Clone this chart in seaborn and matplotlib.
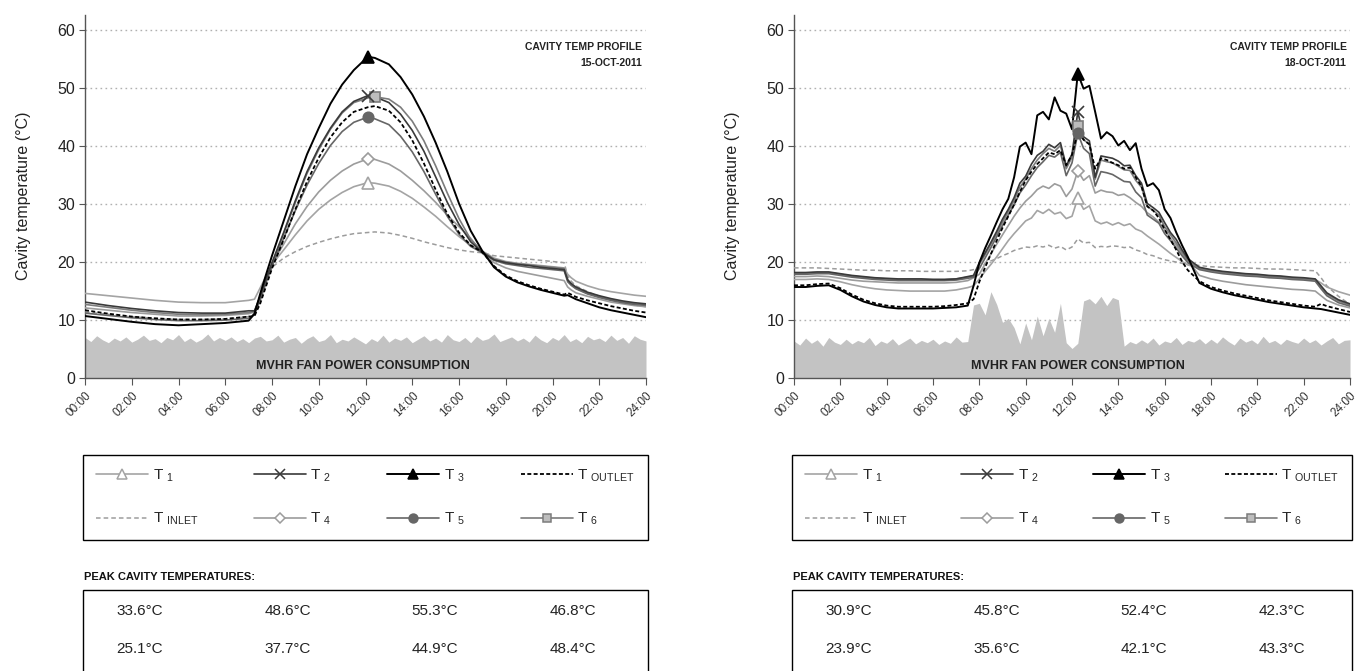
import numpy as np
import matplotlib
matplotlib.use("Agg")
import matplotlib.pyplot as plt
from matplotlib.lines import Line2D
from matplotlib.patches import Rectangle
import seaborn as sns

# ---------------------------------------------------------------- data
# 15 October 2011 (smooth clear-sky day)
L_HOURS = [0, 1, 2, 3, 4, 5, 6, 7, 7.25, 7.5, 7.75, 8, 8.5, 9, 9.5, 10, 10.5, 11, 11.5,
           12.1, 12.4, 13, 13.5, 14, 14.5, 15, 15.5, 16, 16.5, 17, 17.5, 18, 18.5, 19,
           19.5, 20, 20.5, 20.65, 20.8, 21, 21.5, 22, 22.5, 23, 23.5, 24]

L_T1 = [14.5, 14.1, 13.7, 13.3, 13.0, 12.9, 12.9, 13.3,
        13.5, 15.5, 17.5, 19.5, 22.0, 24.6, 27.0, 29.0, 30.6, 31.9, 32.9, 33.6, 33.5,
        33.0, 32.1, 30.9, 29.4, 27.8, 26.0, 24.3, 22.8,
        21.8, 20.6, 20.0, 19.7, 19.5, 19.3, 19.1, 18.9, 17.8, 17.2, 16.6, 15.8, 15.2,
        14.8, 14.5, 14.2, 14.0]
L_T2 = [13.0, 12.4, 11.9, 11.5, 11.2, 11.1, 11.1, 11.5,
        11.5, 14.0, 17.0, 19.8, 25.0, 30.5, 35.5, 39.6, 43.0, 45.8, 47.6, 48.6, 48.4,
        47.4, 45.4, 42.6, 39.0, 34.6, 30.2, 26.4, 23.4,
        21.6, 20.3, 19.8, 19.5, 19.3, 19.0, 18.8, 18.6, 16.8, 16.2, 15.6, 14.7, 14.1,
        13.6, 13.2, 12.9, 12.7]
L_T3 = [10.6, 10.1, 9.6, 9.2, 9.0, 9.2, 9.4, 9.8,
        11.0, 14.5, 17.8, 21.0, 27.0, 33.0, 38.5, 43.0, 47.2, 50.5, 53.0, 55.3, 55.1,
        54.0, 51.8, 48.8, 45.0, 40.5, 35.5, 30.0, 25.3,
        21.8, 19.0, 17.4, 16.4, 15.7, 15.1, 14.6, 14.1, 14.2, 13.9, 13.5, 12.8, 12.1,
        11.6, 11.2, 10.8, 10.4]
L_TOUT = [11.6, 11.0, 10.5, 10.2, 10.0, 10.0, 10.1, 10.5,
          10.6, 12.8, 15.8, 18.8, 23.8, 29.0, 33.8, 37.9, 41.4, 44.0, 45.8, 46.6, 46.8,
          46.0, 44.0, 40.9, 36.9, 32.4, 28.2, 25.0, 22.8,
          21.6, 19.2, 17.6, 16.6, 15.9, 15.3, 14.8, 14.3, 14.6, 14.3, 13.9, 13.3, 12.8,
          12.3, 11.9, 11.5, 11.2]
L_TIN = [11.3, 10.9, 10.5, 10.2, 10.0, 10.0, 10.1, 10.5,
         11.0, 13.5, 16.5, 19.0, 20.6, 21.7, 22.6, 23.3, 23.9, 24.4, 24.8, 25.0, 25.1,
         24.9, 24.5, 24.0, 23.4, 22.9, 22.4, 22.0, 21.7,
         21.5, 21.0, 20.8, 20.6, 20.4, 20.2, 20.0, 19.8, 17.5, 16.6, 15.8, 14.8, 14.0,
         13.4, 12.9, 12.5, 12.2]
L_T4 = [12.0, 11.6, 11.2, 10.9, 10.6, 10.6, 10.7, 11.0,
        11.3, 14.0, 17.0, 19.6, 23.0, 26.5, 29.5, 32.0, 34.0, 35.6, 36.8, 37.7, 37.6,
        36.8, 35.6, 34.0, 32.2, 30.2, 28.0, 26.0, 24.0,
        21.4, 19.8, 18.9, 18.3, 17.9, 17.5, 17.1, 16.7, 15.6, 15.1, 14.6, 14.0, 13.5,
        13.0, 12.7, 12.4, 12.2]
L_T5 = [11.1, 10.7, 10.3, 10.0, 9.8, 9.8, 9.9, 10.2,
        10.8, 13.4, 16.4, 19.2, 24.0, 28.8, 33.2, 36.9, 40.0, 42.4, 44.0, 44.9, 44.6,
        43.6, 41.6, 38.9, 35.5, 31.6, 27.8, 24.7, 22.6,
        21.5, 20.2, 19.6, 19.3, 19.0, 18.8, 18.6, 18.4, 16.5, 15.9, 15.3, 14.4, 13.8,
        13.3, 12.9, 12.6, 12.5]
L_T6 = [12.6, 12.1, 11.6, 11.2, 10.9, 10.8, 10.9, 11.2,
        11.4, 13.8, 16.8, 19.6, 24.8, 30.2, 35.2, 39.3, 42.8, 45.6, 47.4, 48.2, 48.4,
        48.0, 46.6, 44.2, 40.8, 36.5, 31.8, 27.4, 23.8,
        21.7, 20.4, 19.9, 19.6, 19.4, 19.2, 19.0, 18.8, 16.9, 16.1, 15.4, 14.5, 13.9,
        13.4, 13.0, 12.7, 12.4]

# fan power, one value per quarter hour (00:00 ... 24:00)
L_FAN = [6.9, 6.2, 7.2, 6.5, 6.0, 6.8, 6.3, 7.0, 6.1, 6.6, 7.3, 6.4,
         6.7, 6.0, 6.9, 6.5, 7.4, 6.2, 6.8, 6.1, 6.6, 7.5, 6.3, 6.9,
         6.4, 7.0, 6.2, 6.7, 6.0, 6.8, 7.1, 6.3, 6.5, 7.3, 6.1, 6.6,
         6.9, 5.9, 6.7, 7.2, 6.2, 6.5, 7.4, 6.0, 6.6, 6.3, 7.0, 6.4,
         5.8, 6.7, 6.2, 7.3, 6.1, 6.8, 6.4, 7.0, 6.0, 6.6, 7.2, 6.3,
         6.8, 6.1, 7.4, 6.5, 6.2, 6.9, 6.0, 7.1, 6.4, 6.7, 7.5, 6.2,
         6.6, 7.0, 6.3, 6.8, 6.1, 7.3, 6.5, 6.0, 6.9, 6.4, 7.4, 6.2,
         6.7, 6.0, 7.1, 6.5, 6.8, 6.2, 7.3, 6.4, 6.9, 5.9, 7.2, 6.6,
         6.3]

# 18 October 2011 (broken cloud around midday)
R_HOURS = np.r_[np.arange(0, 7.51, 0.5), 7.75, np.arange(8, 17.01, 0.25),
                np.arange(17.5, 22.51, 0.5), 22.75, 23, 23.5, 24]

R_T1 = [16.9, 16.9, 17.0, 16.9, 16.5, 16.0, 15.6, 15.3, 15.1, 15.0, 14.9, 14.9, 14.9, 14.9, 15.1, 15.5,
        15.8, 17.0, 18.3, 19.5, 20.8, 22.2, 23.6, 24.8, 25.9, 27.0, 27.5, 28.8, 28.3, 29.0, 28.2, 28.5,
        27.4, 27.8, 30.9, 29.0, 29.6, 27.0, 26.5, 26.8, 26.3, 26.7, 26.2, 26.5, 25.6, 25.2, 24.4, 23.7,
        23.0, 22.2, 21.4, 20.7, 20.0, 19.4,
        18.9, 18.5, 18.2, 18.0, 17.8, 17.7, 17.5, 17.4, 17.2, 17.1, 16.9, 16.3, 15.6, 14.8, 14.2]
R_T2 = [18.1, 18.1, 18.2, 18.2, 17.9, 17.6, 17.4, 17.2, 17.1, 17.0, 17.0, 17.0, 16.9, 16.9, 17.0, 17.4,
        17.6, 19.8, 21.5, 23.3, 25.2, 27.3, 29.0, 31.0, 33.5, 34.7, 36.8, 38.3, 39.0, 40.2, 39.6, 40.5,
        36.5, 38.5, 45.8, 41.5, 40.8, 34.5, 38.2, 38.0, 37.8, 37.3, 36.5, 36.6, 34.8, 33.5, 30.0, 29.3,
        28.5, 26.7, 25.0, 23.8, 22.0, 20.5,
        19.0, 18.6, 18.3, 18.1, 17.9, 17.8, 17.6, 17.5, 17.3, 17.2, 17.0, 15.8, 14.6, 13.4, 12.7]
R_T3 = [15.6, 15.6, 15.8, 15.9, 15.1, 14.0, 13.1, 12.5, 12.1, 11.9, 11.9, 11.9, 11.9, 12.0, 12.1, 12.4,
        15.8, 19.8, 22.3, 24.5, 26.8, 29.0, 30.8, 34.5, 39.8, 40.5, 38.5, 45.2, 45.8, 44.5, 48.3, 46.0,
        45.5, 42.8, 52.4, 49.8, 50.3, 45.8, 41.2, 42.3, 41.6, 40.0, 40.8, 39.2, 40.4, 36.0, 33.0, 33.5,
        32.3, 29.0, 27.5, 25.0, 22.8, 20.8,
        16.3, 15.3, 14.7, 14.2, 13.8, 13.4, 13.0, 12.7, 12.4, 12.1, 11.9, 11.8, 11.6, 11.2, 10.8]
R_TOUT = [15.9, 15.9, 16.1, 16.2, 15.4, 14.3, 13.4, 12.8, 12.4, 12.2, 12.2, 12.2, 12.2, 12.3, 12.5, 12.8,
          13.5, 16.5, 19.0, 21.3, 23.6, 25.8, 27.8, 29.8, 32.0, 34.0, 35.5, 36.8, 37.8, 38.8, 38.5, 39.2,
          36.6, 38.4, 42.3, 41.0, 40.2, 36.0, 37.8, 37.5, 37.0, 36.6, 36.0, 36.2, 34.5, 33.0, 29.5, 28.8,
          27.5, 25.5, 23.8, 22.0, 20.0, 18.5,
          16.6, 15.6, 15.0, 14.5, 14.1, 13.7, 13.3, 13.0, 12.7, 12.4, 12.2, 12.7, 12.3, 11.8, 11.3]
R_TIN = [18.9, 18.9, 18.9, 18.8, 18.7, 18.6, 18.5, 18.5, 18.4, 18.4, 18.4, 18.3, 18.3, 18.3, 18.3, 18.4,
         18.6, 19.0, 19.6, 20.1, 20.5, 21.0, 21.4, 21.9, 22.2, 22.5, 22.4, 22.7, 22.5, 22.8, 22.3, 22.6,
         22.0, 22.5, 23.9, 23.2, 23.3, 22.4, 22.6, 22.5, 22.7, 22.6, 22.4, 22.5, 22.0, 21.7, 21.2, 21.0,
         20.6, 20.3, 20.1, 19.9, 19.7, 19.6,
         19.3, 19.1, 19.0, 18.9, 18.9, 18.8, 18.7, 18.7, 18.6, 18.5, 18.4, 17.2, 15.8, 14.0, 12.6]
R_T4 = [17.4, 17.4, 17.5, 17.4, 17.1, 16.8, 16.6, 16.5, 16.4, 16.3, 16.3, 16.3, 16.3, 16.3, 16.4, 16.7,
        17.2, 17.8, 19.6, 21.3, 23.0, 24.6, 26.2, 27.8, 29.2, 30.4, 31.3, 32.4, 33.0, 32.6, 33.4, 33.0,
        31.2, 32.5, 35.6, 34.0, 34.8, 31.8, 32.3, 32.0, 31.9, 31.4, 31.6, 31.0, 30.2, 29.5, 28.4, 27.7,
        26.8, 25.5, 24.0, 22.8, 21.3, 20.1,
        17.6, 17.0, 16.6, 16.3, 16.0, 15.8, 15.6, 15.4, 15.2, 15.1, 14.9, 14.1, 13.3, 12.5, 12.0]
R_T5 = [17.8, 17.8, 17.9, 17.9, 17.6, 17.3, 17.1, 16.9, 16.8, 16.7, 16.7, 16.7, 16.7, 16.7, 16.8, 17.1,
        17.3, 18.8, 20.6, 22.4, 24.3, 26.2, 28.0, 29.8, 31.8, 33.2, 34.8, 36.2, 37.2, 38.3, 38.0, 38.8,
        34.8, 37.0, 42.1, 39.5, 38.6, 33.0, 35.5, 35.3, 35.0, 34.4, 33.8, 33.7, 32.0, 31.0, 28.0, 27.3,
        26.6, 24.8, 23.6, 22.3, 21.0, 19.8,
        18.6, 18.2, 17.9, 17.7, 17.5, 17.4, 17.2, 17.1, 16.9, 16.8, 16.6, 15.3, 14.1, 12.9, 12.3]
R_T6 = [18.0, 18.0, 18.1, 18.1, 17.8, 17.5, 17.3, 17.1, 17.0, 16.9, 16.9, 16.9, 16.9, 16.9, 17.0, 17.3,
        17.5, 19.5, 21.2, 23.0, 24.8, 26.8, 28.6, 30.5, 32.8, 34.2, 36.0, 37.5, 38.6, 39.5, 39.0, 40.0,
        36.0, 38.0, 43.3, 41.0, 40.2, 34.2, 37.5, 37.2, 37.0, 36.4, 35.8, 35.7, 34.0, 32.8, 29.5, 28.8,
        28.0, 26.0, 24.6, 23.2, 21.6, 20.2,
        18.8, 18.4, 18.1, 17.9, 17.7, 17.6, 17.4, 17.3, 17.1, 17.0, 16.8, 15.6, 14.4, 13.2, 12.5]

R_FAN = [6.3, 5.6, 6.8, 5.9, 6.5, 5.4, 6.9, 6.1, 5.7, 6.6, 5.8, 6.4,
         6.0, 6.9, 5.5, 6.3, 5.9, 6.7, 5.6, 6.2, 6.8, 5.8, 6.4, 6.0,
         6.6, 5.7, 6.3, 5.9, 7.0, 6.1, 6.2, 12.5, 12.8, 10.8, 14.8, 12.6,
         9.5, 10.2, 8.6, 5.8, 9.4, 6.5, 10.6, 7.2, 10.2, 7.8, 12.8, 6.0,
         5.0, 5.9, 13.2, 13.6, 12.7, 14.0, 12.4, 13.8, 13.4, 5.4, 6.2, 5.8,
         6.5, 5.9, 6.8, 5.6, 6.3, 6.0, 6.9, 5.7, 6.4, 6.1, 6.7, 5.8,
         6.6, 5.9, 7.0, 6.2, 5.6, 6.8, 6.1, 6.5, 5.8, 7.1, 6.0, 6.4,
         5.7, 6.6, 6.2, 5.9, 6.8, 6.0, 6.5, 5.6, 6.3, 6.9, 5.8, 6.4,
         6.5]

# legend / table reading order (row by row)
SENSORS = ["T1", "T2", "T3", "TOUT", "TIN", "T4", "T5", "T6"]
LEGEND_LABELS = {"T1": r"T $_{1}$", "T2": r"T $_{2}$", "T3": r"T $_{3}$",
                 "TOUT": r"T $_{OUTLET}$", "TIN": r"T $_{INLET}$", "T4": r"T $_{4}$",
                 "T5": r"T $_{5}$", "T6": r"T $_{6}$"}
TICK_LABELS = ["00:00", "02:00", "04:00", "06:00", "08:00", "10:00", "12:00",
               "14:00", "16:00", "18:00", "20:00", "22:00", "24:00"]

DAYS = [
    dict(hours=np.array(L_HOURS, dtype=float),
         series=dict(T1=L_T1, T2=L_T2, T3=L_T3, TOUT=L_TOUT, TIN=L_TIN, T4=L_T4, T5=L_T5, T6=L_T6),
         fan=L_FAN, date="15-OCT-2011", fan_x=11.9),
    dict(hours=np.array(R_HOURS, dtype=float),
         series=dict(T1=R_T1, T2=R_T2, T3=R_T3, TOUT=R_TOUT, TIN=R_TIN, T4=R_T4, T5=R_T5, T6=R_T6),
         fan=R_FAN, date="18-OCT-2011", fan_x=12.25),
]

# ---------------------------------------------------------------- styles
STYLE = {
    "T1":   dict(color="#a4a4a4", lw=1.2, ls="-", marker="^", ms=8, mfc="white", mec="#a4a4a4"),
    "T2":   dict(color="#3a3a3a", lw=1.2, ls="-", marker="x", ms=9, mfc="#3a3a3a", mec="#3a3a3a"),
    "T3":   dict(color="#000000", lw=1.4, ls="-", marker="^", ms=9, mfc="#000000", mec="#000000"),
    "TOUT": dict(color="#000000", lw=1.3, ls=(0, (2.2, 1.3)), marker=None),
    "TIN":  dict(color="#9c9c9c", lw=1.1, ls=(0, (3, 2)), marker=None),
    "T4":   dict(color="#9c9c9c", lw=1.2, ls="-", marker="D", ms=6.5, mfc="white", mec="#9c9c9c"),
    "T5":   dict(color="#666666", lw=1.2, ls="-", marker="o", ms=7.5, mfc="#666666", mec="#666666"),
    "T6":   dict(color="#7c7c7c", lw=1.2, ls="-", marker="s", ms=7.5, mfc="#bdbdbd", mec="#7c7c7c"),
}
DRAW_ORDER = ["TIN", "T1", "T4", "T6", "T5", "T2", "TOUT", "T3"]

sns.set_theme(style="white")
plt.rcParams["font.family"] = ["Liberation Sans", "DejaVu Sans"]
plt.rcParams["mathtext.default"] = "regular"

W, H = 1367, 671
fig = plt.figure(figsize=(W / 100, H / 100), dpi=100)


def fx(px):
    return px / W


def fy(py):
    return 1 - py / H


# panel frames in pixels: (x at 00:00, x at 24:00); y from 0 °C to 62.5 °C
PANELS = [(85, 646), (794, 1350)]
Y0, Y_TOP = 377.5, 15.0

for (x0, x1), day in zip(PANELS, DAYS):
    ax = fig.add_axes([fx(x0), fy(Y0), fx(x1) - fx(x0), fy(Y_TOP) - fy(Y0)])
    ax.set_axisbelow(True)
    hours = day["hours"]

    fan_hours = np.arange(len(day["fan"])) * 0.25
    ax.fill_between(fan_hours, 0, day["fan"], color="#c3c3c3", lw=0, zorder=1)

    for key in DRAW_ORDER:
        st = STYLE[key]
        vals = np.asarray(day["series"][key], dtype=float)
        sns.lineplot(x=hours, y=vals, ax=ax, color=st["color"], linewidth=st["lw"],
                     linestyle=st["ls"], estimator=None, sort=False, zorder=3)
        if st["marker"]:
            i = int(np.argmax(vals))
            ax.plot(hours[i], vals[i], linestyle="none", marker=st["marker"],
                    markersize=st["ms"], markerfacecolor=st["mfc"],
                    markeredgecolor=st["mec"], markeredgewidth=1.2, zorder=5)

    ax.set_xlim(0, 24)
    ax.set_ylim(0, 62.5)
    ax.set_xticks(np.arange(0, 25, 2))
    ax.set_xticklabels(TICK_LABELS, rotation=45, ha="right", rotation_mode="anchor",
                       fontsize=8.5, color="#333333")
    ax.set_yticks(np.arange(0, 61, 10))
    ax.tick_params(axis="y", labelsize=11.5, labelcolor="#222222", left=True,
                   length=4, width=0.8, color="#555555", pad=3)
    ax.tick_params(axis="x", bottom=True, length=5, width=0.8, color="#555555", pad=4)
    ax.yaxis.grid(True, linestyle=(0, (1.2, 2.4)), color="#b0b0b0", linewidth=1.0)
    ax.xaxis.grid(False)
    for side in ("top", "right"):
        ax.spines[side].set_visible(False)
    for side in ("left", "bottom"):
        ax.spines[side].set_color("#555555")
        ax.spines[side].set_linewidth(1.0)
    ax.set_ylabel("Cavity temperature (°C)", fontsize=11.5, color="#222222", labelpad=19)
    ax.set_xlabel("")

    ax.text(23.85, 56.9, "CAVITY TEMP PROFILE", ha="right", va="center",
            fontsize=7.5, fontweight="bold", color="#222222")
    ax.text(23.85, 54.2, day["date"], ha="right", va="center",
            fontsize=7.5, fontweight="bold", color="#222222")
    ax.text(day["fan_x"], 1.9, "MVHR FAN POWER CONSUMPTION", ha="center", va="center",
            fontsize=9, fontweight="bold", color="#222222", zorder=6)

    # legend box: matplotlib fills column by column, so feed the two rows interleaved
    legend_keys = [k for pair in zip(SENSORS[:4], SENSORS[4:]) for k in pair]
    handles = []
    for key in legend_keys:
        st = STYLE[key]
        handles.append(Line2D([], [], color=st["color"], linewidth=st["lw"], linestyle=st["ls"],
                              marker=st["marker"] if st["marker"] else "None",
                              markersize=st.get("ms", 0) * 0.85,
                              markerfacecolor=st.get("mfc", "none"),
                              markeredgecolor=st.get("mec", "none"), markeredgewidth=1.1))
    bx0, bx1 = x0 - 2, x1 + 2
    leg = fig.legend(handles, [LEGEND_LABELS[k] for k in legend_keys], ncol=4, loc="center",
                     mode="expand",
                     bbox_to_anchor=(fx(bx0), fy(540), fx(bx1) - fx(bx0), fy(455) - fy(540)),
                     frameon=True, fancybox=False, edgecolor="black", framealpha=1,
                     fontsize=11, handlelength=3.4, handletextpad=0.3, labelspacing=1.75,
                     borderpad=0.85, numpoints=1, borderaxespad=0)
    leg.get_frame().set_linewidth(1.0)

    # peak temperature table
    fig.text(fx(bx0 + 1), fy(577), "PEAK CAVITY TEMPERATURES:", ha="left", va="center",
             fontsize=8, fontweight="bold", color="#111111")
    fig.add_artist(Rectangle((fx(bx0), fy(720)), fx(bx1) - fx(bx0), fy(590) - fy(720),
                             transform=fig.transFigure, fill=False, edgecolor="black", lw=1.0))
    col_x = [57, 205, 352, 490]
    row_y = [611, 649]
    for k, key in enumerate(SENSORS):
        peak = max(day["series"][key])
        fig.text(fx(bx0 + col_x[k % 4]), fy(row_y[k // 4]), f"{peak:.1f}°C",
                 ha="center", va="center", fontsize=11, color="#222222")

fig.savefig("out.png", dpi=100, facecolor="white")
